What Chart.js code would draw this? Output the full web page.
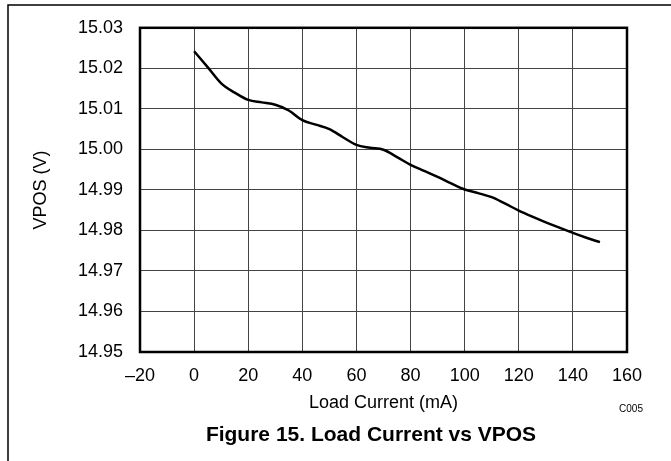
<!DOCTYPE html>
<html>
<head>
<meta charset="utf-8">
<script src="https://cdn.jsdelivr.net/npm/chart.js@4/dist/chart.umd.min.js"></script>
<style>
  html, body { margin: 0; padding: 0; background: #fff; }
  #wrap { width: 671px; height: 461px; position: relative; }
</style>
</head>
<body>
<div id="wrap"><canvas id="loadChart" width="671" height="461"></canvas></div>
<script>
"use-strict";

// load current (mA) and VPOS (V)
const loadCurrent = [0, 5, 10, 15, 20, 25, 30, 35, 40, 45, 50, 55, 60, 65, 70, 75, 80, 85, 90, 95, 100, 105, 110, 115, 120, 125, 130, 135, 140, 145, 150];
const vposValues = [15.0242, 15.0203, 15.0163, 15.0140, 15.0122, 15.0116, 15.0110, 15.0096, 15.0072, 15.0061, 15.0050, 15.0030, 15.0011, 15.0004, 14.9999, 14.9981, 14.9962, 14.9947, 14.9932, 14.9916, 14.9901, 14.9892, 14.9882, 14.9866, 14.9849, 14.9834, 14.9820, 14.9807, 14.9794, 14.9782, 14.9771];
const xTicks = [-20, 0, 20, 40, 60, 80, 100, 120, 140, 160];
const yTicks = [14.95, 14.96, 14.97, 14.98, 14.99, 15.00, 15.01, 15.02, 15.03];

const FONT = 'Liberation Sans, Arial, sans-serif';

const framePlugin = {
  id: 'frame',
  afterDraw: (chart) => {
    const ctx = chart.ctx;
    const area = chart.chartArea;
    ctx.save();
    // plot border
    ctx.strokeStyle = '#000';
    ctx.lineWidth = 2.5;
    ctx.strokeRect(area.left, area.top, area.right - area.left, area.bottom - area.top);
    // page frame
    ctx.lineWidth = 1.5;
    ctx.beginPath();
    ctx.moveTo(8, 461);
    ctx.lineTo(8, 5);
    ctx.lineTo(671, 5);
    ctx.stroke();
    // id tag & caption
    ctx.fillStyle = '#000';
    ctx.textAlign = 'center';
    ctx.textBaseline = 'middle';
    ctx.font = `10px ${FONT}`;
    ctx.fillText('C005', 631, 409);
    ctx.font = `bold 21px ${FONT}`;
    ctx.fillText('Figure 15. Load Current vs VPOS', 371, 435);
    ctx.restore();
  }
};

const ctxLoad = document.getElementById('loadChart');
new Chart(ctxLoad, {
  type: 'line',
  data: {
    labels: loadCurrent,
    datasets: [{
      data: loadCurrent.map((x, i) => ({ x: x, y: vposValues[i] })),
      borderColor: '#000',
      borderWidth: 2.5,
      pointRadius: 0,
      tension: 0.4,
      cubicInterpolationMode: 'monotone',
      fill: false
    }]
  },
  options: {
    responsive: false,
    animation: false,
    devicePixelRatio: 1,
    layout: { padding: { left: 0, top: 21, right: 44, bottom: 39 } },
    plugins: { legend: { display: false }, tooltip: { enabled: false } },
    scales: {
      x: {
        type: 'linear',
        min: -20,
        max: 160,
        afterBuildTicks: (scale) => { scale.ticks = xTicks.map(v => ({ value: v })); },
        afterFit: (scale) => { scale.height = 70; },
        grid: { color: '#444', lineWidth: 1, drawTicks: false },
        border: { display: false },
        ticks: {
          padding: 13,
          color: '#000',
          font: { family: FONT, size: 18 },
          callback: (v) => v < 0 ? '\u2013' + Math.abs(v) : String(v)
        },
        title: {
          display: true,
          text: 'Load Current (mA)',
          color: '#000',
          font: { family: FONT, size: 18 },
          padding: { top: 0, bottom: 8 }
        }
      },
      y: {
        type: 'linear',
        min: 14.95,
        max: 15.03,
        afterBuildTicks: (scale) => { scale.ticks = yTicks.map(v => ({ value: v })); },
        afterFit: (scale) => { scale.width = 140; },
        grid: { color: '#444', lineWidth: 1, drawTicks: false },
        border: { display: false },
        ticks: {
          padding: 17,
          color: '#000',
          font: { family: FONT, size: 18 },
          callback: (v) => v.toFixed(2)
        },
        title: {
          display: true,
          text: 'VPOS (V)',
          color: '#000',
          font: { family: FONT, size: 18 },
          padding: { top: 30, bottom: 0 }
        }
      }
    }
  },
  plugins: [framePlugin]
});
</script>
</body>
</html>
